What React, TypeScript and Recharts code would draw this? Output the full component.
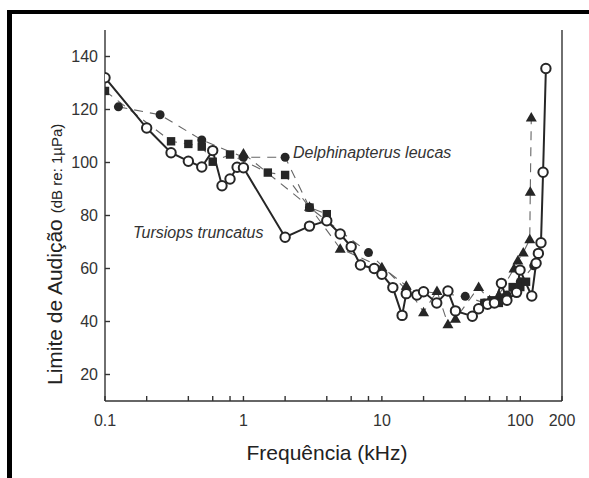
import { ComposedChart, Line, XAxis, YAxis } from 'recharts'

// Tursiops truncatus (open circles, solid line)
const tursiopsKhz = [0.1, 0.2, 0.3, 0.4, 0.5, 0.6, 0.7, 0.8, 0.9, 1, 2, 3, 4, 5, 6, 7, 8.8, 10, 12, 14, 15, 17.9, 20, 24.9, 30, 34, 45, 50, 58, 65, 73, 80, 94, 99.5, 121, 130, 135, 141, 146, 153]
const tursiopsDb = [132, 113, 103.7, 100.5, 98.3, 104.5, 91.2, 93.8, 98.2, 98, 71.8, 76, 78, 73, 68.2, 61.3, 60, 57.8, 52.8, 42.3, 50.5, 50, 51.2, 47, 51.5, 44, 42, 44.8, 46.5, 47, 54.4, 48, 51, 59.4, 49.6, 62, 65.7, 69.7, 96.3, 135.5]

// Delphinapterus leucas, several data sets (filled markers, dashed lines)
const belugaCircleKhz = [0.125, 0.25, 0.5, 1, 2, 3, 4, 8, 15, 40, 55, 65, 80, 100, 125]
const belugaCircleDb = [121, 118, 108.5, 102, 102, 83, 78, 66, 52, 49.5, 47, 47, 50, 55, 61]

const belugaSquareLowKhz = [0.1, 0.3, 0.4, 0.5, 0.6, 0.8, 1.5, 2, 3, 4]
const belugaSquareLowDb = [127, 108, 107, 106, 100.3, 103, 96.2, 95.3, 83, 80.5]

const belugaSquareHighKhz = [55, 62, 70, 78, 88, 100, 110]
const belugaSquareHighDb = [47, 48, 47, 49, 53, 53, 55]

const belugaTriangleKhz = [1, 3, 5, 10, 15, 20, 25, 30, 34, 50, 60, 70, 90, 96, 105, 117, 118, 120]
const belugaTriangleDb = [103.4, 83.3, 67.5, 60.5, 53.5, 43.5, 51.5, 39, 41, 53, 48, 50, 60, 63, 66, 71, 89, 117]

const xTicks = [0.1, 0.2, 0.4, 0.6, 0.8, 1, 2, 4, 6, 8, 10, 20, 40, 60, 80, 100, 200]
const xLabelled = [0.1, 1, 10, 100, 200]
const yTicks = [20, 40, 60, 80, 100, 120, 140]

const zip = (f: number[], v: number[]) => f.map((x, i) => ({ f: x, db: v[i] }))

const tursiops = zip(tursiopsKhz, tursiopsDb)
const belugaCircles = zip(belugaCircleKhz, belugaCircleDb)
const belugaSquaresLow = zip(belugaSquareLowKhz, belugaSquareLowDb)
const belugaSquaresHigh = zip(belugaSquareHighKhz, belugaSquareHighDb)
const belugaTriangles = zip(belugaTriangleKhz, belugaTriangleDb)

const FONT = '"Liberation Sans", Arial, Helvetica, sans-serif'
const INK = '#262626'
const AXIS = '#333'
const DASH = '#666'

const openDot = (p: any) => (
  <circle key={`o${p.index}`} cx={p.cx} cy={p.cy} r={4.7} fill="#fff" stroke={INK} strokeWidth={2} />
)
const filledDot = (p: any) => (
  <circle key={`c${p.index}`} cx={p.cx} cy={p.cy} r={4.5} fill={INK} />
)
const squareDot = (p: any) => (
  <rect key={`s${p.index}`} x={p.cx - 4.2} y={p.cy - 4.2} width={8.4} height={8.4} fill={INK} />
)
const triangleDot = (p: any) => (
  <path
    key={`t${p.index}`}
    d={`M${p.cx},${p.cy - 5.5} L${p.cx + 5.5},${p.cy + 4} L${p.cx - 5.5},${p.cy + 4} Z`}
    fill={INK}
  />
)

const tickStyle = { fill: '#333', fontSize: 16, fontFamily: FONT }

const dashedProps = {
  xAxisId: 'b',
  yAxisId: 'l',
  dataKey: 'db',
  type: 'linear' as const,
  stroke: DASH,
  strokeWidth: 1.1,
  strokeDasharray: '9 7',
  activeDot: false,
  isAnimationActive: false,
}

export default function App() {
  return (
    <div style={{ position: 'absolute', left: 0, top: 0, width: 589, height: 478, background: '#fff', overflow: 'hidden' }}>
      {/* scanned frame: thick left and top edges */}
      <div style={{ position: 'absolute', left: 7, top: 10, width: 582, height: 468, borderLeft: '5px solid #000', borderTop: '4px solid #000', boxSizing: 'border-box' }} />
      <ComposedChart
        width={589}
        height={478}
        margin={{ top: 30, right: 0, bottom: 47, left: 45 }}
        style={{ position: 'absolute', left: 0, top: 0 }}
      >
        <XAxis
          xAxisId="b"
          dataKey="f"
          type="number"
          scale="log"
          domain={[0.1, 200]}
          allowDataOverflow
          ticks={xTicks}
          interval={0}
          tickFormatter={(v: number) => (xLabelled.includes(v) ? String(v) : '')}
          tick={tickStyle}
          tickSize={-5}
          tickMargin={19}
          height={30}
          stroke={AXIS}
          strokeWidth={1.4}
        />
        <XAxis
          xAxisId="t"
          orientation="top"
          type="number"
          scale="log"
          domain={[0.1, 200]}
          allowDataOverflow
          ticks={xTicks}
          interval={0}
          tickFormatter={() => ''}
          tickSize={-5}
          height={0}
          stroke={AXIS}
          strokeWidth={1.4}
        />
        <YAxis
          yAxisId="l"
          type="number"
          domain={[10, 150]}
          ticks={yTicks}
          interval={0}
          tick={tickStyle}
          tickSize={-5}
          tickMargin={12}
          width={60}
          stroke={AXIS}
          strokeWidth={1.4}
        />
        <YAxis
          yAxisId="r"
          orientation="right"
          type="number"
          domain={[10, 150]}
          ticks={yTicks}
          interval={0}
          tickFormatter={() => ''}
          tickSize={-5}
          width={27}
          stroke={AXIS}
          strokeWidth={1.4}
        />

        <Line {...dashedProps} data={belugaCircles} dot={filledDot} />
        <Line {...dashedProps} data={belugaSquaresLow} dot={squareDot} />
        <Line {...dashedProps} data={belugaSquaresHigh} dot={squareDot} />
        <Line {...dashedProps} data={belugaTriangles} dot={triangleDot} />
        <Line xAxisId="b" yAxisId="l" data={tursiops} dataKey="db" type="linear"
          stroke={INK} strokeWidth={2} dot={openDot} activeDot={false} isAnimationActive={false} />

        <text x={293} y={158} fontFamily={FONT} fontSize={16} fontStyle="italic" fill="#333">
          Delphinapterus leucas
        </text>
        <text x={133} y={238} fontFamily={FONT} fontSize={16} fontStyle="italic" fill="#333">
          Tursiops truncatus
        </text>

        <text x={327} y={460} textAnchor="middle" fontFamily={FONT} fontSize={21} fill="#222">
          Frequência (kHz)
        </text>
        <text transform="translate(62,385) rotate(-90)" fontFamily={FONT} fill="#222">
          <tspan fontSize={21}>Limite de Audição</tspan>
          <tspan fontSize={15} dx={6}>(dB re: 1µPa)</tspan>
        </text>
      </ComposedChart>
    </div>
  )
}
